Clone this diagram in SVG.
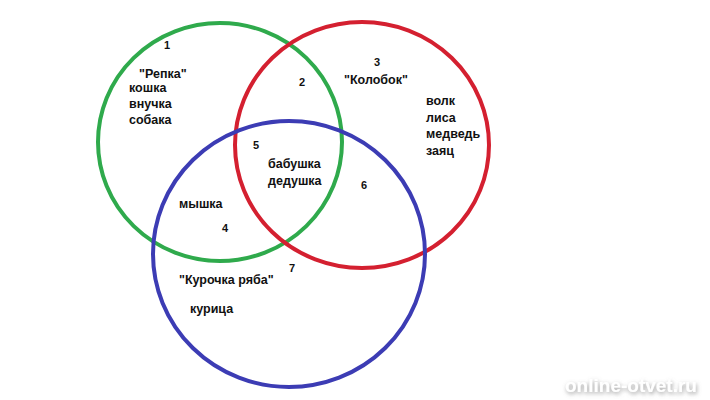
<svg xmlns="http://www.w3.org/2000/svg" width="710" height="400" viewBox="0 0 710 400">
<defs>
<style>
.c{fill:none;stroke-width:4}
.t{font-family:"Liberation Sans",Arial,sans-serif;font-weight:bold;font-size:12.5px;fill:#111}
.n{font-family:"Liberation Sans",Arial,sans-serif;font-weight:bold;font-size:11px;fill:#111}
.w{font-family:"Liberation Sans",Arial,sans-serif;font-weight:bold;font-size:19px;fill:#fff}
</style>
<filter id="sh" x="-10%" y="-40%" width="120%" height="180%">
<feGaussianBlur in="SourceAlpha" stdDeviation="2"/>
<feOffset dx="1" dy="2" result="b"/>
<feFlood flood-color="#888" flood-opacity="0.8"/>
<feComposite in2="b" operator="in"/>
<feMerge><feMergeNode/><feMergeNode in="SourceGraphic"/></feMerge>
</filter>
</defs>
<rect width="710" height="400" fill="#fff"/>
<g id="sets">
<g id="repka"><ellipse class="c" cx="220" cy="142" rx="122" ry="119" stroke="#2faa4c"/></g>
<g id="kolobok"><ellipse class="c" cx="362" cy="145" rx="127" ry="123" stroke="#d42030"/></g>
<g id="kurochka"><ellipse class="c" cx="289" cy="254" rx="136" ry="133" stroke="#3c3cb4"/></g>
</g>
<g id="labels">
<text class="n" x="164" y="49">1</text>
<text class="t" x="139" y="78">"Репка"</text>
<text class="t" x="129" y="92">кошка</text>
<text class="t" x="129" y="108">внучка</text>
<text class="t" x="129" y="124">собака</text>
<text class="n" x="299" y="86">2</text>
<text class="n" x="374" y="66">3</text>
<text class="t" x="344" y="84">"Колобок"</text>
<text class="t" x="426" y="105">волк</text>
<text class="t" x="426" y="122">лиса</text>
<text class="t" x="426" y="138">медведь</text>
<text class="t" x="426" y="155">заяц</text>
<text class="n" x="253" y="149">5</text>
<text class="t" x="268" y="168">бабушка</text>
<text class="t" x="268" y="185">дедушка</text>
<text class="n" x="361" y="189">6</text>
<text class="t" x="179" y="208">мышка</text>
<text class="n" x="222" y="232">4</text>
<text class="n" x="289" y="272">7</text>
<text class="t" x="179" y="284">"Курочка ряба"</text>
<text class="t" x="190" y="313">курица</text>
</g>
<text class="w" x="565" y="392" filter="url(#sh)">online-otvet.ru</text>
</svg>
